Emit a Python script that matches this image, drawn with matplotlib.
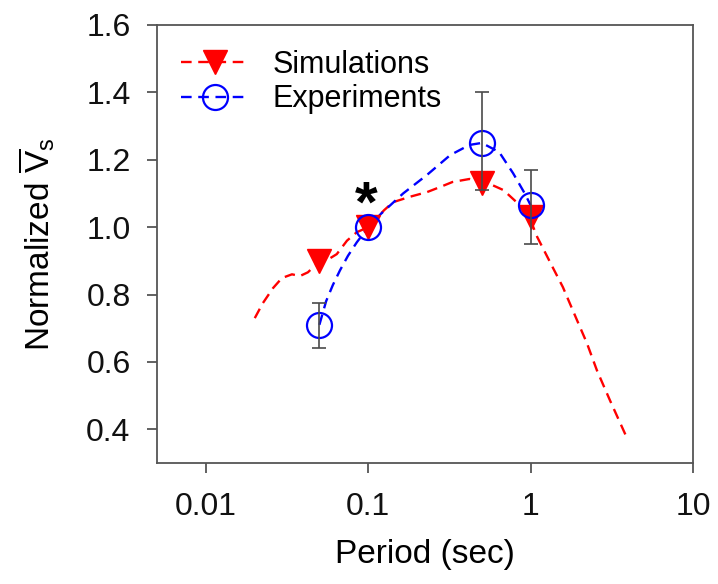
import matplotlib
matplotlib.use("Agg")
import matplotlib.pyplot as plt
from matplotlib.ticker import NullLocator

plt.rcParams['font.family'] = ['Liberation Sans', 'DejaVu Sans']
plt.rcParams['mathtext.fontset'] = 'custom'
plt.rcParams['mathtext.rm'] = 'Liberation Sans'
plt.rcParams['mathtext.it'] = 'Liberation Sans:italic'

# ---- data ----
sim_x = [0.05, 0.1, 0.5, 1.0]
sim_y = [0.90, 1.00, 1.13, 1.03]

exp_x = [0.05, 0.1, 0.5, 1.0]
exp_y = [0.71, 1.00, 1.25, 1.065]

err_x = [0.05, 0.5, 1.0]
err_y = [0.71, 1.25, 1.065]
err_low = [0.64, 1.11, 0.95]
err_high = [0.775, 1.40, 1.17]

sim_curve_x = [0.020, 0.0224, 0.0259, 0.0294, 0.0339, 0.038, 0.0425, 0.0456, 0.050,
               0.057, 0.064, 0.074, 0.085, 0.100, 0.112, 0.125, 0.142, 0.18, 0.23,
               0.28, 0.33, 0.42, 0.50, 0.58, 0.68, 0.82, 1.00, 1.10, 1.37, 1.58,
               1.93, 2.22, 2.56, 3.08, 3.93]
sim_curve_y = [0.73, 0.774, 0.819, 0.849, 0.86, 0.855, 0.866, 0.88, 0.895,
               0.905, 0.92, 0.96, 0.985, 1.00, 1.025, 1.05, 1.074, 1.09, 1.104,
               1.12, 1.134, 1.143, 1.135, 1.125, 1.11, 1.074, 1.02, 0.97, 0.88, 0.822,
               0.724, 0.656, 0.575, 0.486, 0.373]

exp_curve_x = [0.05, 0.055, 0.0605, 0.067, 0.075, 0.085, 0.1, 0.12, 0.164, 0.23,
               0.32, 0.42, 0.5, 0.64, 0.78, 0.92, 1.0]
exp_curve_y = [0.71, 0.78, 0.828, 0.872, 0.915, 0.955, 1.0, 1.04, 1.10, 1.155,
               1.214, 1.244, 1.25, 1.223, 1.16, 1.10, 1.065]

x_ticks = [0.01, 0.1, 1, 10]
x_tick_labels = ['0.01', '0.1', '1', '10']
y_ticks = [0.4, 0.6, 0.8, 1.0, 1.2, 1.4, 1.6]
y_tick_labels = ['0.4', '0.6', '0.8', '1.0', '1.2', '1.4', '1.6']

RED = '#ff0000'
BLUE = '#0000ff'
GRAY = '#555555'

fig = plt.figure(figsize=(7.18, 5.84), dpi=100)
ax = fig.add_axes([157/718, 1 - 463/584, (693-157)/718, (463-25)/584])

ax.set_xscale('log')
ax.set_xlim(0.005, 10)
ax.set_ylim(0.3, 1.6)

LW = 1.7
dash = (4.5, 2.8)
ax.plot(sim_curve_x, sim_curve_y, color=RED, lw=LW, dashes=dash, zorder=2)
ax.plot(exp_curve_x, exp_curve_y, color=BLUE, lw=LW, dashes=dash, zorder=2)
ax.plot(sim_x, sim_y, linestyle='none', marker='v', ms=17, color=RED, zorder=3)
ax.plot(exp_x, exp_y, linestyle='none', marker='o', ms=18, mfc='none', mec=BLUE,
        mew=1.6, zorder=4)

yerr = [[y - lo for y, lo in zip(err_y, err_low)],
        [hi - y for y, hi in zip(err_y, err_high)]]
ax.errorbar(err_x, err_y, yerr=yerr, fmt='none', ecolor='#4a4a4a', elinewidth=1.2,
            capsize=4.7, capthick=1.2, zorder=5)

ax.text(0.097, 1.06, '*', fontsize=42, fontweight='bold', ha='center', va='center',
        color='black', zorder=6)

# legend handles
h1, = ax.plot([], [], color=RED, lw=LW, dashes=dash, marker='v', ms=17)
h2, = ax.plot([], [], color=BLUE, lw=LW, dashes=dash, marker='o', ms=18, mfc='none',
              mec=BLUE, mew=1.6)
ax.legend([h1, h2], ['Simulations', 'Experiments'], loc='upper left',
          bbox_to_anchor=(0.005, 0.992), frameon=False, fontsize=22,
          handlelength=2.2, handletextpad=0.8, labelspacing=0.15, borderpad=0.2)

ax.set_xticks(x_ticks)
ax.set_xticklabels(x_tick_labels)
ax.xaxis.set_minor_locator(NullLocator())
ax.set_yticks(y_ticks)
ax.set_yticklabels(y_tick_labels)
ax.yaxis.set_minor_locator(NullLocator())

for s in ax.spines.values():
    s.set_color(GRAY)
    s.set_linewidth(1.3)

ax.tick_params(axis='both', which='major', direction='out', length=7, width=1.3,
               color=GRAY, labelsize=23, labelcolor='#111111', top=False, right=False)
ax.tick_params(axis='x', pad=14)
ax.tick_params(axis='y', pad=12)

ax.set_xlabel('Period (sec)', fontsize=24, labelpad=12)
ax.set_ylabel(r'Normalized $\overline{\mathrm{V}}_\mathrm{s}$', fontsize=24, labelpad=21)

fig.savefig('out.png', dpi=100)
